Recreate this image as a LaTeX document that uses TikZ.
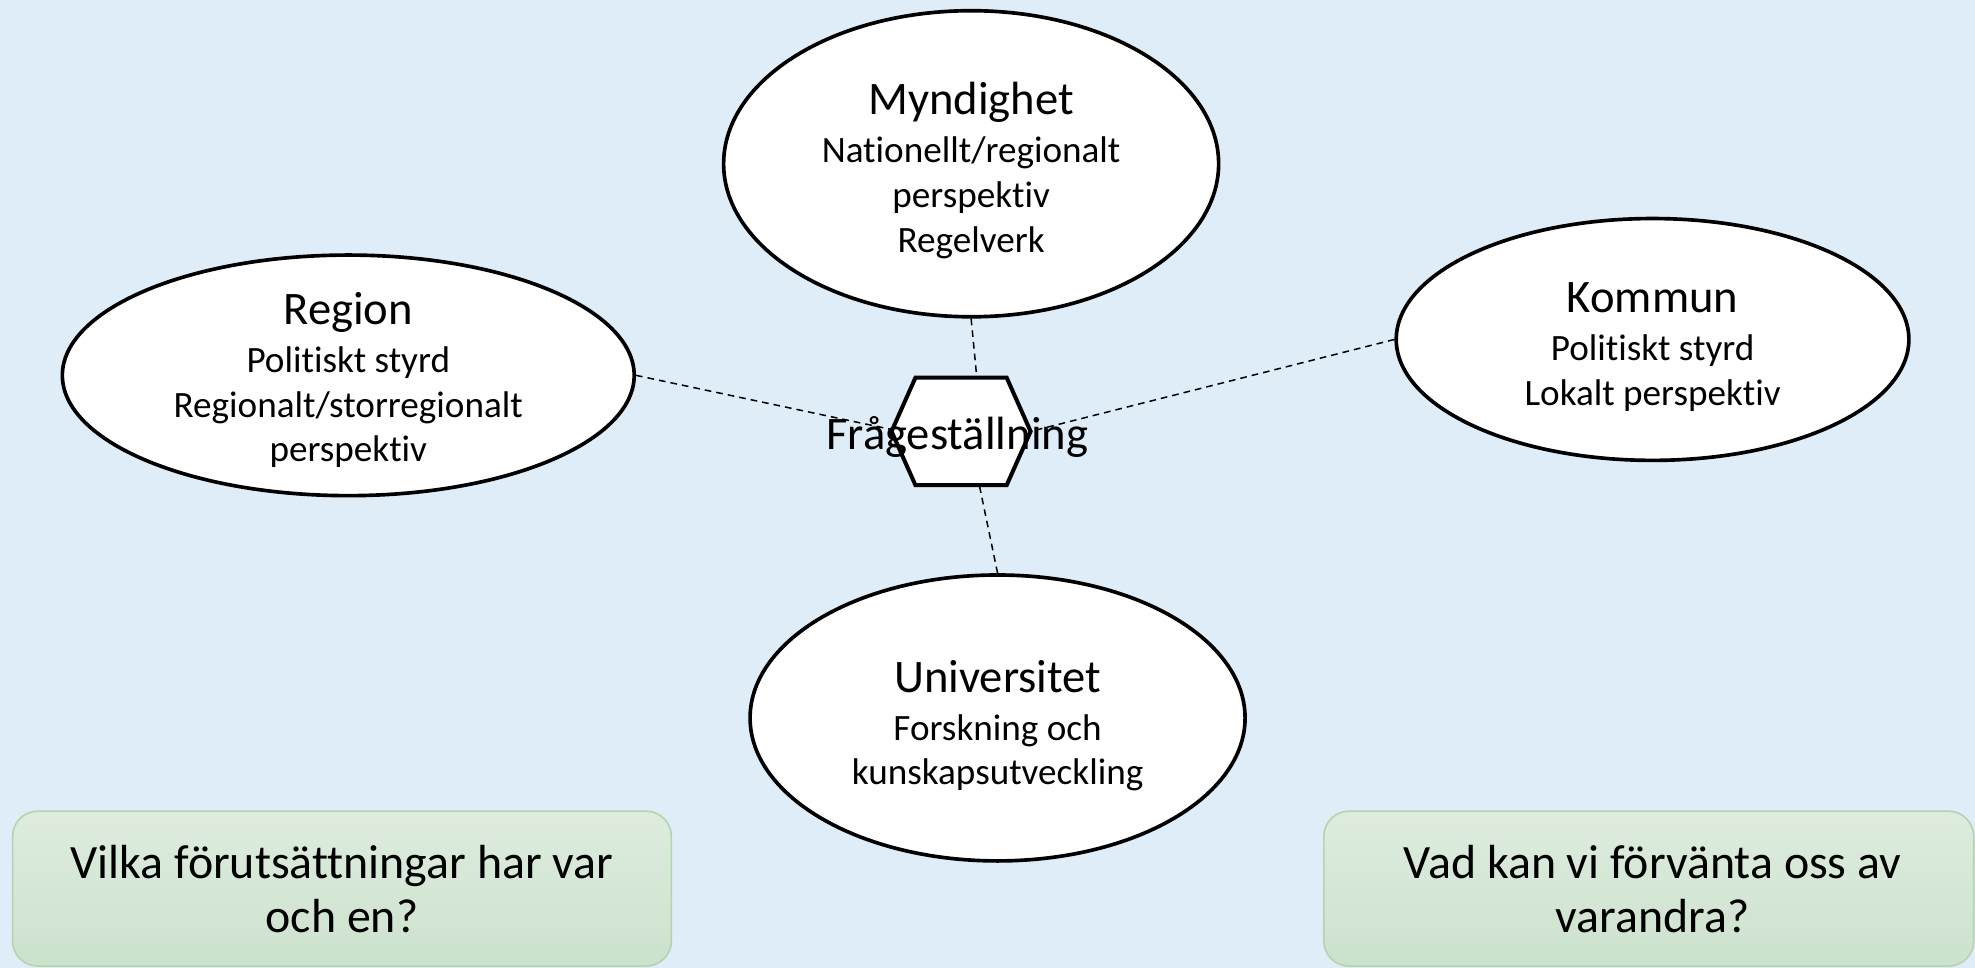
\documentclass[tikz,border=0pt]{standalone}
\usepackage{fontspec}
\setmainfont{Carlito}[Ligatures={NoCommon}]
\usetikzlibrary{calc,shapes.geometric}
\definecolor{bgblue}{RGB}{222,237,247}
\definecolor{boxtop}{RGB}{222,236,222}
\definecolor{boxbot}{RGB}{204,226,205}
\definecolor{boxline}{RGB}{178,213,176}
\tikzset{
  party/.style={ellipse, draw=black, line width=2.9pt, fill=white, inner sep=0pt},
  partytext/.style={align=center, anchor=north, inner sep=0pt, font=\fontsize{29.5}{35.5}\selectfont},
  link/.style={dash pattern=on 5.3pt off 4pt, line width=1.2pt},
  askbox/.style={rounded corners=20pt, draw=boxline, line width=1.3pt, top color=boxtop, bottom color=boxbot, inner sep=0pt},
  asktext/.style={align=center, anchor=north, inner sep=0pt, font=\fontsize{38}{43}\selectfont},
  hexframe/.style={line width=3.2pt, fill=white, line join=miter},
}
\newcommand\partytitle[1]{{\fontsize{37}{38}\selectfont\rule{0pt}{30pt}#1}}
\begin{document}
\begin{tikzpicture}[x=1pt,y=-1pt]
\fill[bgblue] (0,0) rectangle (1568,768.5);
\useasboundingbox (0,0) rectangle (1568,768.5);

% question boxes
\node[askbox, minimum width=523pt, minimum height=123pt] (qleft) at (271.5,705.5) {};
\node[asktext] (qlefttext) at (271.5,665) {\rule{0pt}{32pt}Vilka förutsättningar har var\\och en?};
\node[askbox, minimum width=516pt, minimum height=123pt] (qright) at (1309,705.5) {};
\node[asktext] (qrighttext) at (1312,665) {\rule{0pt}{32pt}Vad kan vi förvänta oss av\\varandra?};

% actors
\node[party, minimum width=393pt, minimum height=243pt] (myn) at (771,130) {};
\node[partytext] (myntext) at (771,61) {\partytitle{Myndighet}\\[2.5pt]Nationellt/regionalt\\perspektiv\\Regelverk};

\node[party, minimum width=454pt, minimum height=191pt] (reg) at (276.5,298) {};
\node[partytext] (regtext) at (276.5,227.5) {\partytitle{Region}\\[2.5pt]Politiskt styrd\\Regionalt/storregionalt\\perspektiv};

\node[party, minimum width=407pt, minimum height=192pt] (kom) at (1312,269.5) {};
\node[partytext] (komtext) at (1312,218) {\partytitle{Kommun}\\[2.5pt]Politiskt styrd\\Lokalt perspektiv};

\node[party, minimum width=393pt, minimum height=227pt] (uni) at (792,570) {};
\node[partytext] (unitext) at (792,519.5) {\partytitle{Universitet}\\[2.5pt]Forskning och\\kunskapsutveckling};

% centre hexagon frame (anchors)
\node[minimum width=110pt, minimum height=85pt, inner sep=0pt] (hex) at (763,342.5) {};

% connectors
\draw[link] (myn.south) -- ($(hex.north)+(12.5,0)$);
\draw[link] (uni.north) -- ($(hex.south)+(14.5,0)$);
\draw[link] (reg.east) -- ($(hex.west)+(0,-1.5)$);
\draw[link] (kom.west) -- (hex.east);

% hexagon
\draw[hexframe] (hex.west) -- ($(hex.north west)+(19,0)$) -- ($(hex.north east)+(-19,0)$)
  -- (hex.east) -- ($(hex.south east)+(-19,0)$) -- ($(hex.south west)+(19,0)$) -- cycle;
\node[font=\fontsize{37}{40}\selectfont, anchor=base, inner sep=0pt] (hextext) at (760,357) {Frågeställning};
\end{tikzpicture}
\end{document}
